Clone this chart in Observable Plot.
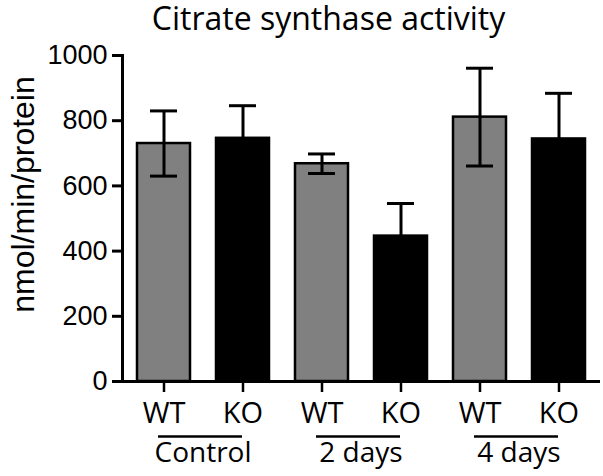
<!DOCTYPE html>
<html><head><meta charset="utf-8">
<script src="https://cdn.jsdelivr.net/npm/d3@7"></script>
<script src="https://cdn.jsdelivr.net/npm/@observablehq/plot@0.6"></script>
<style>body{margin:0;background:#fff} svg{display:block}</style>
</head><body><div id="chart"></div>
<script>
const title = "Citrate synthase activity";
const yLabel = "nmol/min/protein";
const groups = ["Control", "2 days", "4 days"];
const genotypes = ["WT", "KO"];
const means = [730, 746, 668, 446, 811, 744];
const sems = [100, 100, 30, 100, 150, 140];
const yTicks = [0, 200, 400, 600, 800, 1000];
const colors = ["#808080", "#000000"];

const rows = [];
groups.forEach((g, gi) => genotypes.forEach((t, ti) => {
  const i = gi * 2 + ti;
  rows.push({key: g + "|" + t, group: g, genotype: t, mean: means[i], sem: sems[i]});
}));
const groupRows = groups.map(g => ({group: g, k1: g + "|" + genotypes[0], k2: g + "|" + genotypes[1]}));

const chart = Plot.plot({
  width: 603, height: 476,
  marginLeft: 122, marginRight: 3, marginTop: 55, marginBottom: 95,
  style: {fontFamily: "'Liberation Sans', Arial, sans-serif", background: "#fff", color: "#000"},
  x: {domain: rows.map(d => d.key), paddingInner: 0.325, paddingOuter: 0.1625},
  y: {domain: [0, 1000]},
  color: {domain: genotypes, range: colors},
  marks: [
    Plot.barY(rows, {x: "key", y: "mean", fill: "genotype", stroke: "#000", strokeWidth: 2.5}),
    Plot.ruleX(rows, {x: "key", y1: d => d.mean - d.sem, y2: d => d.mean + d.sem, stroke: "#000", strokeWidth: 3}),
    Plot.tickY(rows, {x: "key", y: d => d.mean + d.sem, stroke: "#000", strokeWidth: 3, insetLeft: 13, insetRight: 13}),
    Plot.tickY(rows, {x: "key", y: d => d.mean - d.sem, stroke: "#000", strokeWidth: 3, insetLeft: 13, insetRight: 13}),
    Plot.ruleY([0], {stroke: "#000", strokeWidth: 3}),
    Plot.frame({anchor: "left", stroke: "#000", strokeWidth: 3}),
    Plot.axisY({ticks: yTicks, tickSize: 10, tickPadding: 5, tickFormat: d => String(d), fontSize: 27, strokeWidth: 3, label: null}),
    Plot.axisX({tickSize: 11, tickPadding: 10, tickFormat: d => d.split("|")[1], fontSize: 29, fontFamily: "'Open Sans', sans-serif", strokeWidth: 2.5, label: null}),
    Plot.ruleY(groupRows, {x1: "k1", x2: "k2", y: null, insetLeft: 21, insetRight: 27, stroke: "#000", strokeWidth: 2.5, dy: 218}),
    Plot.text(groupRows, {x: "k1", text: "group", frameAnchor: "bottom", lineAnchor: "middle", textAnchor: "middle", dx: 39, dy: 72, fontSize: 28, fontFamily: "'Open Sans', sans-serif", fill: "#000"}),
    Plot.text([yLabel], {text: d => d, frameAnchor: "left", rotate: -90, textAnchor: "middle", lineAnchor: "middle", dx: -99, dy: -24, fontSize: 32, fill: "#000"}),
    Plot.text([title], {text: d => d, frameAnchor: "top", textAnchor: "middle", lineAnchor: "middle", dx: -33, dy: -36, fontSize: 32, fontFamily: "'Open Sans', sans-serif", fill: "#000"})
  ]
});
document.getElementById("chart").appendChild(chart);
</script>
</body></html>
